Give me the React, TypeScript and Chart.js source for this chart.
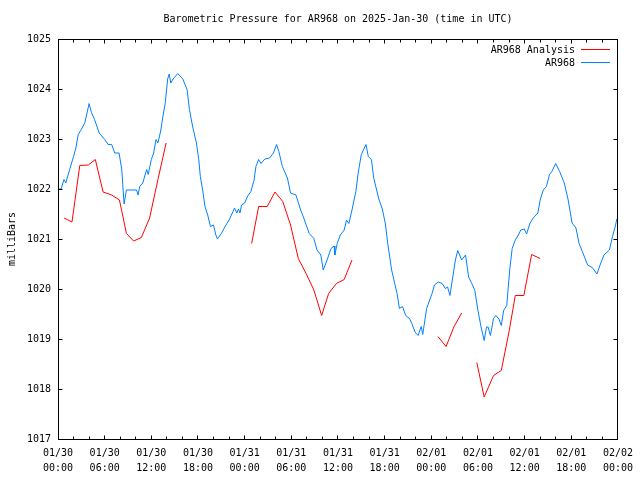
import React, { useEffect, useRef } from "react";
import { Chart, registerables } from "chart.js";

Chart.register(...registerables);

// ---- Data (hours since 2025-01-30 00:00 UTC, pressure in mb) ----
const blueTimes = [
  0.0, 0.4, 0.77, 1.0, 1.5, 2.0, 2.3, 2.6, 3.0, 3.46, 4.0, 4.3, 4.7, 5.3, 6.0, 6.45, 6.9, 7.3, 7.85, 8.2,
  8.4, 8.5, 8.8, 10.1, 10.3, 10.5, 10.9, 11.4, 11.6, 12.0, 12.3, 12.6, 12.85, 13.2, 13.5, 13.8, 14.1, 14.3,
  14.5, 14.8, 15.4, 16.05, 16.6, 16.9, 17.3, 17.8, 18.1, 18.3, 18.6, 18.9, 19.25, 19.6, 20.0, 20.3, 20.5,
  21.0, 21.6, 22.0, 22.5, 22.7, 23.0, 23.2, 23.4, 23.6, 24.0, 24.4, 24.8, 25.2, 25.45, 25.8, 26.1, 26.6,
  27.2, 27.7, 28.1, 28.4, 28.85, 29.5, 29.9, 30.6, 31.2, 31.6, 32.3, 32.9, 33.3, 33.8, 34.1, 34.6, 35.1,
  35.5, 35.6, 35.9, 36.3, 36.8, 37.1, 37.4, 37.8, 38.3, 38.6, 39.0, 39.6, 39.9, 40.3, 40.6, 41.25, 41.7,
  42.1, 42.4, 42.9, 43.3, 43.6, 43.9, 44.3, 44.7, 45.2, 45.5, 45.9, 46.3, 46.7, 46.9, 47.4, 47.7, 48.1,
  48.4, 48.9, 49.4, 49.8, 50.1, 50.4, 50.7, 51.1, 51.4, 51.9, 52.4, 52.8, 53.2, 53.6, 54.0, 54.4, 54.8,
  55.1, 55.3, 55.6, 56.0, 56.3, 56.7, 57.0, 57.3, 57.7, 57.9, 58.1, 58.4, 58.8, 59.2, 59.5, 59.95, 60.25,
  60.7, 61.1, 61.7, 62.0, 62.4, 62.8, 63.2, 63.5, 64.0, 64.5, 65.1, 65.6, 66.1, 66.6, 67.0, 67.6, 68.1,
  68.7, 69.3, 69.7, 70.2, 70.9, 71.3, 71.7, 71.85,
];
const bluePressure = [
  1022.0, 1022.0, 1022.19, 1022.12, 1022.39, 1022.65, 1022.82, 1023.09, 1023.19, 1023.33, 1023.71, 1023.53,
  1023.39, 1023.12, 1022.99, 1022.89, 1022.89, 1022.72, 1022.72, 1022.39, 1021.92, 1021.7, 1021.98, 1021.98,
  1021.88, 1022.05, 1022.12, 1022.39, 1022.29, 1022.59, 1022.72, 1022.99, 1022.92, 1023.16, 1023.46, 1023.73,
  1024.2, 1024.3, 1024.12, 1024.2, 1024.31, 1024.2, 1023.99, 1023.59, 1023.26, 1022.92, 1022.59, 1022.25,
  1021.98, 1021.65, 1021.48, 1021.25, 1021.28, 1021.08, 1021.0, 1021.11, 1021.28, 1021.38, 1021.55, 1021.62,
  1021.52, 1021.6, 1021.52, 1021.68, 1021.72, 1021.86, 1021.95, 1022.17, 1022.45, 1022.59, 1022.51, 1022.6,
  1022.62, 1022.72, 1022.89, 1022.75, 1022.45, 1022.22, 1021.92, 1021.88, 1021.58, 1021.42, 1021.11, 1021.01,
  1020.78, 1020.68, 1020.38, 1020.58, 1020.81, 1020.86, 1020.68, 1020.91, 1021.08, 1021.18, 1021.38, 1021.31,
  1021.58, 1021.95, 1022.32, 1022.69, 1022.89, 1022.65, 1022.59, 1022.22, 1021.8, 1021.6, 1021.3, 1020.91,
  1020.38, 1020.11, 1019.91, 1019.61, 1019.65, 1019.47, 1019.41, 1019.31, 1019.14, 1019.07, 1019.25, 1019.09,
  1019.61, 1019.74, 1019.91, 1020.08, 1020.14, 1020.11, 1020.01, 1020.04, 1019.87, 1020.18, 1020.58, 1020.77,
  1020.58, 1020.68, 1020.24, 1020.11, 1019.97, 1019.57, 1019.24, 1018.97, 1019.24, 1019.24, 1019.07, 1019.41,
  1019.47, 1019.4, 1019.27, 1019.57, 1019.67, 1020.04, 1020.41, 1020.81, 1020.98, 1021.08, 1021.18, 1021.2,
  1021.1, 1021.32, 1021.42, 1021.52, 1021.78, 1021.98, 1022.05, 1022.29, 1022.35, 1022.51, 1022.35, 1022.12,
  1021.78, 1021.32, 1021.22, 1020.91, 1020.68, 1020.48, 1020.43, 1020.3, 1020.48, 1020.68, 1020.78, 1021.05,
  1021.28, 1021.4,
];

// null = gap in the analysis series
const redTimes = [
  0.77, 1.8, 2.8, 3.9, 4.8, 5.8, 6.9, 7.9, 8.8, 9.73, 10.72, 11.78, 12.85, 13.9,
  19.0,
  24.9, 25.8, 26.9, 27.9, 28.9, 29.9, 30.9, 31.9, 32.9, 33.9, 34.8, 35.8, 36.8, 37.8,
  43.0,
  48.85, 49.9, 50.9, 51.9,
  53.0,
  53.85, 54.8, 56.0, 57.0, 58.0, 58.8, 59.9, 60.9, 62.0,
];
const redPressure = [
  1021.42, 1021.34, 1022.47, 1022.48, 1022.59, 1021.94, 1021.88, 1021.78, 1021.11, 1020.96, 1021.03, 1021.42,
  1022.19, 1022.92,
  null,
  1020.91, 1021.65, 1021.65, 1021.94, 1021.75, 1021.28, 1020.61, 1020.31, 1019.98, 1019.47, 1019.91, 1020.11,
  1020.19, 1020.58,
  null,
  1019.05, 1018.85, 1019.24, 1019.52,
  null,
  1018.53, 1017.84, 1018.27, 1018.37, 1019.15, 1019.87, 1019.87, 1020.69, 1020.61,
];

const xTickLabels = [
  "01/30\n00:00", "01/30\n06:00", "01/30\n12:00", "01/30\n18:00",
  "01/31\n00:00", "01/31\n06:00", "01/31\n12:00", "01/31\n18:00",
  "02/01\n00:00", "02/01\n06:00", "02/01\n12:00", "02/01\n18:00",
  "02/02\n00:00",
];

const titleText = "Barometric Pressure for AR968 on 2025-Jan-30 (time in UTC)";
const yAxisTitle = "milliBars";
const redLabel = "AR968 Analysis";
const blueLabel = "AR968";
const yMin = 1017;
const yMax = 1025;
const xMax = 72;

const RED = "#ff0000";
const BLUE = "#0080ff";
const FONT = "'DejaVu Sans Mono', monospace";

const decorPlugin = {
  id: "decor",
  afterDatasetsDraw(chart: any) {
    const { ctx, chartArea: a, scales } = chart;
    const xs = scales.x;
    const ys = scales.y;
    const L = Math.floor(a.left) + 0.5;
    const R = Math.floor(a.right) + 0.5;
    const T = Math.floor(a.top) + 0.5;
    const B = Math.floor(a.bottom) + 0.5;
    ctx.save();
    ctx.strokeStyle = "#000";
    ctx.lineWidth = 1;
    ctx.beginPath();
    // x ticks every 2 hours, inward on bottom and top
    for (let h = 0; h <= xMax; h += 2) {
      const px = Math.floor(xs.getPixelForValue(h)) + 0.5;
      const len = h % 6 === 0 ? 4 : 3;
      ctx.moveTo(px, B);
      ctx.lineTo(px, B - len);
      ctx.moveTo(px, T);
      ctx.lineTo(px, T + len);
    }
    // y ticks every mb, inward on left and right
    for (let v = yMin; v <= yMax; v += 1) {
      const py = Math.floor(ys.getPixelForValue(v)) + 0.5;
      ctx.moveTo(L, py);
      ctx.lineTo(L + 4, py);
      ctx.moveTo(R, py);
      ctx.lineTo(R - 4, py);
    }
    ctx.stroke();
    ctx.strokeRect(L, T, R - L, B - T);

    ctx.fillStyle = "#000";
    ctx.font = `10px ${FONT}`;
    // title
    ctx.textAlign = "center";
    ctx.textBaseline = "middle";
    ctx.fillText(titleText, (a.left + a.right) / 2, 19);
    // y axis title
    ctx.save();
    ctx.translate(12, (a.top + a.bottom) / 2);
    ctx.rotate(-Math.PI / 2);
    ctx.fillText(yAxisTitle, 0, 0);
    ctx.restore();
    // legend
    ctx.textAlign = "right";
    ctx.fillText(redLabel, 575, 50);
    ctx.fillText(blueLabel, 575, 63);
    ctx.beginPath();
    ctx.strokeStyle = RED;
    ctx.moveTo(581, 49.5);
    ctx.lineTo(610, 49.5);
    ctx.stroke();
    ctx.beginPath();
    ctx.strokeStyle = BLUE;
    ctx.moveTo(581, 62.5);
    ctx.lineTo(610, 62.5);
    ctx.stroke();
    ctx.restore();
  },
};

export default function App() {
  const canvasRef = useRef<HTMLCanvasElement | null>(null);

  useEffect(() => {
    document.body.style.margin = "0";
    const canvas = canvasRef.current;
    if (!canvas) return;
    const blueData = blueTimes.map((t, i) => ({ x: t, y: bluePressure[i] }));
    const redData = redTimes.map((t, i) => ({ x: t, y: redPressure[i] }));
    const chart = new Chart(canvas, {
      type: "line",
      data: {
        datasets: [
          {
            label: redLabel,
            data: redData as any,
            borderColor: RED,
            borderWidth: 1,
            pointRadius: 0,
            tension: 0,
            spanGaps: false,
          },
          {
            label: blueLabel,
            data: blueData as any,
            borderColor: BLUE,
            borderWidth: 1,
            pointRadius: 0,
            tension: 0,
          },
        ],
      },
      options: {
        animation: false,
        responsive: false,
        maintainAspectRatio: false,
        devicePixelRatio: 1,
        layout: { padding: { top: 39, right: 19, left: 0, bottom: 0 } },
        plugins: {
          legend: { display: false },
          title: { display: false },
          tooltip: { enabled: false },
        },
        scales: {
          x: {
            type: "linear",
            min: 0,
            max: xMax,
            grid: { display: false, drawTicks: false },
            border: { display: false },
            afterFit: (s: any) => {
              s.height = 41;
            },
            ticks: {
              stepSize: 6,
              autoSkip: false,
              maxRotation: 0,
              minRotation: 0,
              padding: 7,
              color: "#000",
              font: { family: FONT, size: 10, lineHeight: 1.5 },
              callback: (v: any) => {
                const idx = Math.round(Number(v) / 6);
                const lbl = xTickLabels[idx];
                return lbl ? lbl.split("\n") : "";
              },
            },
          },
          y: {
            min: yMin,
            max: yMax,
            grid: { display: false, drawTicks: false },
            border: { display: false },
            afterFit: (s: any) => {
              s.width = 58;
            },
            ticks: {
              stepSize: 1,
              padding: 7,
              color: "#000",
              font: { family: FONT, size: 10 },
              callback: (v: any) => String(v),
            },
          },
        },
      },
      plugins: [decorPlugin],
    });
    return () => chart.destroy();
  }, []);

  return (
    <div style={{ position: "fixed", left: 0, top: 0, width: 640, height: 480, background: "#fff" }}>
      <canvas ref={canvasRef} width={640} height={480} style={{ display: "block", width: 640, height: 480 }} />
    </div>
  );
}
